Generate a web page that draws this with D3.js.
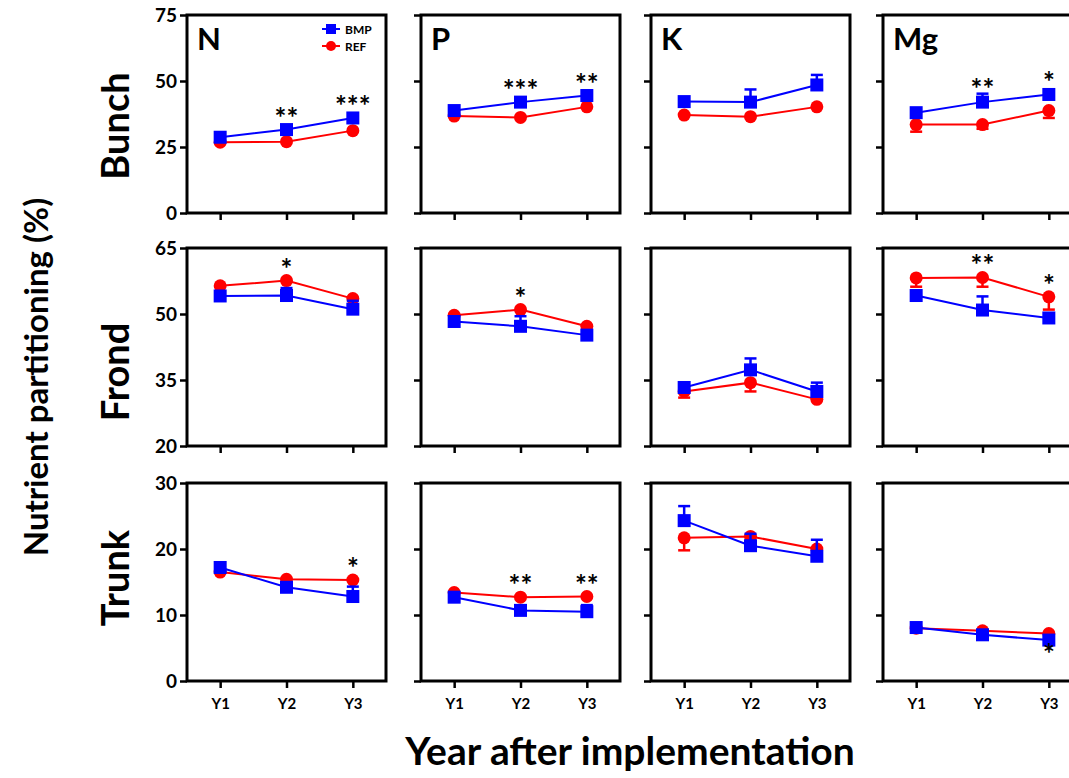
<!DOCTYPE html>
<html>
<head>
<meta charset="utf-8">
<script src="https://cdn.jsdelivr.net/npm/d3@7"></script>
<style>
  body { margin: 0; background: #fff; }
  text { font-family: Lato, "Open Sans", sans-serif; font-weight: bold; fill: #000; }
</style>
</head>
<body>
<script>
var width = 1069,
    height = 778;

// categories
var years = ["Y1", "Y2", "Y3"];
var nutrients = ["N", "P", "K", "Mg"];
var organs = ["Bunch", "Frond", "Trunk"];
var yDomains = [[0, 75], [20, 65], [0, 30]];
var yTicks = [[0, 25, 50, 75], [20, 35, 50, 65], [0, 10, 20, 30]];

// BMP means, one row per nutrient (N, P, K, Mg)
var bmpBunch = [[28.7, 31.6, 36.0], [38.8, 42.0, 44.5], [42.2, 42.0, 48.5], [38.0, 42.0, 44.9]];
var bmpFrond = [[54.1, 54.2, 51.1], [48.3, 47.2, 45.2], [33.3, 37.3, 32.4], [54.2, 50.9, 49.1]];
var bmpTrunk = [[17.2, 14.2, 12.8], [12.7, 10.7, 10.5], [24.3, 20.5, 18.9], [8.1, 7.0, 6.2]];

// REF means
var refBunch = [[26.8, 27.0, 31.2], [36.7, 36.2, 40.2], [37.1, 36.5, 40.2], [33.5, 33.5, 38.8]];
var refFrond = [[56.4, 57.6, 53.5], [49.7, 51.0, 47.2], [32.4, 34.4, 30.6], [58.2, 58.3, 53.9]];
var refTrunk = [[16.5, 15.4, 15.3], [13.4, 12.7, 12.8], [21.7, 21.9, 20.0], [8.0, 7.6, 7.2]];

// error bars (BMP drawn upward, REF drawn downward), 0 = not visible
var bmpErrBunch = [[0, 0, 0], [0, 0, 0], [0, 4.8, 3.8], [0, 3.2, 0]];
var bmpErrFrond = [[0, 1.7, 1.9], [0, 2.3, 0], [0, 2.6, 2.0], [0, 3.1, 0]];
var bmpErrTrunk = [[0, 0, 1.5], [0, 0, 1.0], [2.2, 1.8, 2.5], [0, 0, 0]];
var refErrBunch = [[0, 0, 0], [0, 0, 0], [0, 0, 0], [2.7, 1.6, 2.8]];
var refErrFrond = [[0, 0, 0], [0, 0, 0], [1.4, 2.0, 0], [2.0, 2.1, 2.9]];
var refErrTrunk = [[0, 0, 0], [0, 0, 0], [1.9, 0, 0], [0, 0, 0]];

// significance marks
var starsBunch = [["", "**", "***"], ["", "***", "**"], ["", "", ""], ["", "**", "*"]];
var starsFrond = [["", "*", ""], ["", "*", ""], ["", "", ""], ["", "**", "*"]];
var starsTrunk = [["", "", "*"], ["", "**", "**"], ["", "", ""], ["", "", "*"]];

var bmp = [bmpBunch, bmpFrond, bmpTrunk],
    ref = [refBunch, refFrond, refTrunk],
    bmpErr = [bmpErrBunch, bmpErrFrond, bmpErrTrunk],
    refErr = [refErrBunch, refErrFrond, refErrTrunk],
    stars = [starsBunch, starsFrond, starsTrunk];

var colLeft = [187, 421, 651, 883],
    rowTop = [15, 248, 483],
    rowLabelY = [126, 372, 578],
    pw = 199, ph = 198;

var blue = "#0000ff", red = "#ff0000";

var svg = d3.select("body").append("svg")
    .attr("width", width)
    .attr("height", height);

organs.forEach(function(organ, r) {
  nutrients.forEach(function(nut, c) {
    var left = colLeft[c], top = rowTop[r];

    var x = d3.scalePoint().domain(years).range([left, left + pw]).padding(0.5);
    var y = d3.scaleLinear().domain(yDomains[r]).range([top + ph, top]);

    var g = svg.append("g");

    // left axis
    var ya = g.append("g")
        .attr("transform", "translate(" + left + ",0)")
        .call(d3.axisLeft(y).tickValues(yTicks[r]).tickSize(7).tickPadding(3)
          .tickFormat(c === 0 ? d3.format("d") : function() { return ""; }));
    ya.select(".domain").remove();
    ya.selectAll("line").attr("stroke", "#000").attr("stroke-width", 2.5);
    ya.selectAll("text").style("font-size", "19px").style("font-family", "Lato, sans-serif").style("font-weight", "bold").attr("fill", "#000");

    // bottom axis
    var xa = g.append("g")
        .attr("transform", "translate(0," + (top + ph) + ")")
        .call(d3.axisBottom(x).tickSize(7).tickPadding(10)
          .tickFormat(r === 2 ? function(d) { return d; } : function() { return ""; }));
    xa.select(".domain").remove();
    xa.selectAll("line").attr("stroke", "#000").attr("stroke-width", 2.5);
    xa.selectAll("text").style("font-size", "15px").style("font-family", "Lato, sans-serif").style("font-weight", "bold").attr("fill", "#000");

    // frame
    g.append("rect")
        .attr("x", left).attr("y", top)
        .attr("width", pw).attr("height", ph)
        .attr("fill", "none").attr("stroke", "#000").attr("stroke-width", 3);

    var line = d3.line()
        .x(function(d, i) { return x(years[i]); })
        .y(function(d) { return y(d); });

    var series = [
      { vals: ref[r][c], err: refErr[r][c], col: red, dir: -1, shape: "circle" },
      { vals: bmp[r][c], err: bmpErr[r][c], col: blue, dir: 1, shape: "square" }
    ];

    series.forEach(function(s) {
      // error bars
      s.vals.forEach(function(v, i) {
        if (!s.err[i]) return;
        var xe = x(years[i]), y0 = y(v), y1 = y(v + s.dir * s.err[i]);
        g.append("line").attr("x1", xe).attr("x2", xe).attr("y1", y0).attr("y2", y1)
          .attr("stroke", s.col).attr("stroke-width", 2.5);
        g.append("line").attr("x1", xe - 6).attr("x2", xe + 6).attr("y1", y1).attr("y2", y1)
          .attr("stroke", s.col).attr("stroke-width", 2.5);
      });

      g.append("path")
          .datum(s.vals)
          .attr("d", line)
          .attr("fill", "none")
          .attr("stroke", s.col)
          .attr("stroke-width", 2);

      if (s.shape === "circle") {
        g.selectAll(null).data(s.vals).enter().append("circle")
            .attr("cx", function(d, i) { return x(years[i]); })
            .attr("cy", function(d) { return y(d); })
            .attr("r", 6.5)
            .attr("fill", s.col);
      } else {
        g.selectAll(null).data(s.vals).enter().append("rect")
            .attr("x", function(d, i) { return x(years[i]) - 6.5; })
            .attr("y", function(d) { return y(d) - 6.5; })
            .attr("width", 13).attr("height", 13)
            .attr("fill", s.col);
      }
    });

    // significance stars
    stars[r][c].forEach(function(st, i) {
      if (!st) return;
      var b = bmp[r][c][i], f = ref[r][c][i];
      var below = (r === 2 && c === 3);
      var yy;
      if (below) {
        yy = y(Math.min(b, f)) + 24;
      } else {
        var topPx = Math.min(y(b) - 7, y(f) - 7, y(b + bmpErr[r][c][i]));
        yy = topPx + 5;
      }
      g.append("text")
          .attr("x", x(years[i]))
          .attr("y", yy)
          .attr("text-anchor", "middle")
          .style("font-size", "28px")
          .text(st);
    });

    // nutrient label
    if (r === 0) {
      g.append("text")
          .attr("x", left + 10)
          .attr("y", top + 35)
          .style("font-size", "31px")
          .text(nut);
    }

    // legend in the first panel
    if (r === 0 && c === 0) {
      var lg = [{ name: "BMP", col: blue, shape: "square", ly: top + 14 },
                { name: "REF", col: red, shape: "circle", ly: top + 31 }];
      lg.forEach(function(l) {
        g.append("line").attr("x1", left + 135).attr("x2", left + 153)
          .attr("y1", l.ly).attr("y2", l.ly)
          .attr("stroke", l.col).attr("stroke-width", 2);
        if (l.shape === "square") {
          g.append("rect").attr("x", left + 139).attr("y", l.ly - 5)
            .attr("width", 10).attr("height", 10).attr("fill", l.col);
        } else {
          g.append("circle").attr("cx", left + 144).attr("cy", l.ly).attr("r", 5).attr("fill", l.col);
        }
        g.append("text").attr("x", left + 158).attr("y", l.ly + 4.5)
          .style("font-size", "12px").text(l.name);
      });
    }
  });

  // row label
  svg.append("text")
      .attr("transform", "translate(129," + rowLabelY[r] + ") rotate(-90)")
      .attr("text-anchor", "middle")
      .style("font-size", "38px")
      .text(organ);
});

// axis titles
svg.append("text")
    .attr("transform", "translate(48,377) rotate(-90)")
    .attr("text-anchor", "middle")
    .style("font-size", "33px")
    .text("Nutrient partitioning (%)");

svg.append("text")
    .attr("x", 630)
    .attr("y", 765)
    .attr("text-anchor", "middle")
    .style("font-size", "39px")
    .text("Year after implementation");
</script>
</body>
</html>
